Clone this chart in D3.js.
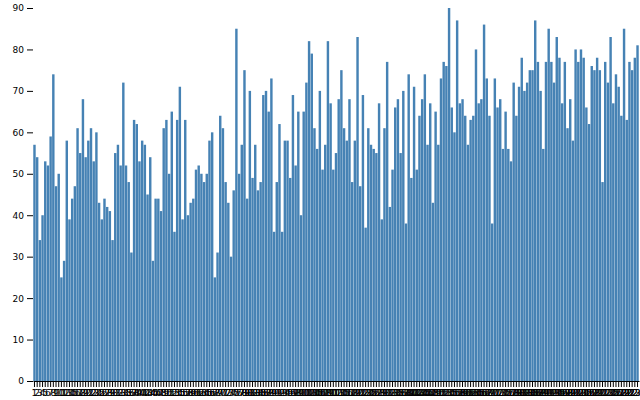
<!DOCTYPE html>
<html>
<head>
<meta charset="utf-8">
<script src="https://cdn.jsdelivr.net/npm/d3@7"></script>
<style>
  html, body { margin: 0; padding: 0; background: #fff; }
  svg { display: block; }
</style>
</head>
<body>
<svg id="chart" width="640" height="400"></svg>
<script>
const values = [
  57,54,34,40,53,52,59,74,47,50,25,29,58,39,44,47,61,55,68,54,58,61,53,60,43,39,44,42,41,34,55,57,52,72,52,48,31,63,62,53,
  58,57,45,54,29,44,44,41,61,63,50,65,36,63,71,39,63,40,43,44,51,52,50,48,50,58,60,25,31,64,61,48,43,30,46,85,50,57,75,44,
  70,49,57,46,48,69,70,65,73,36,48,62,36,58,58,49,69,52,65,40,65,72,82,79,61,56,70,51,57,82,67,51,55,68,75,61,58,68,48,58,83,47,69,37,61,57,56,55,67,
  39,61,77,42,51,66,68,55,70,38,74,49,71,51,64,68,74,57,67,43,65,57,73,77,76,90,66,60,87,67,68,64,57,63,64,80,67,68,86,73,64,38,73,66,68,56,65,
  56,53,72,64,71,78,70,72,75,75,87,77,70,56,77,85,77,72,83,78,67,77,61,68,58,80,77,80,78,66,62,76,75,78,75,48,77,72,83,67,74,71,64,85,63,77,75,78,81
];
const categories = values.map((d, i) => String(i + 1));
const yTicks = [0, 10, 20, 30, 40, 50, 60, 70, 80, 90];

const width = 640, height = 400;
const margin = {top: 8, right: 1, bottom: 19, left: 33};

const svg = d3.select("#chart");

const x = d3.scaleBand()
  .domain(categories)
  .range([margin.left, width - margin.right])
  .padding(0.1);

const y = d3.scaleLinear()
  .domain([0, 90])
  .range([height - margin.bottom, margin.top]);

svg.append("g")
  .attr("fill", "steelblue")
  .selectAll("rect")
  .data(values)
  .join("rect")
  .attr("x", (d, i) => x(categories[i]))
  .attr("y", d => y(d))
  .attr("width", x.bandwidth())
  .attr("height", d => y(0) - y(d));

svg.append("g")
  .attr("transform", `translate(0,${height - margin.bottom})`)
  .call(d3.axisBottom(x).tickSizeOuter(0))
  .attr("font-family", "DejaVu Sans, sans-serif")
  .attr("font-size", 9);

svg.append("g")
  .attr("transform", `translate(${margin.left},0)`)
  .call(d3.axisLeft(y).tickValues(yTicks))
  .attr("font-family", "DejaVu Sans, sans-serif")
  .attr("font-size", 9)
  .call(g => g.select(".domain").remove());
</script>
</body>
</html>
